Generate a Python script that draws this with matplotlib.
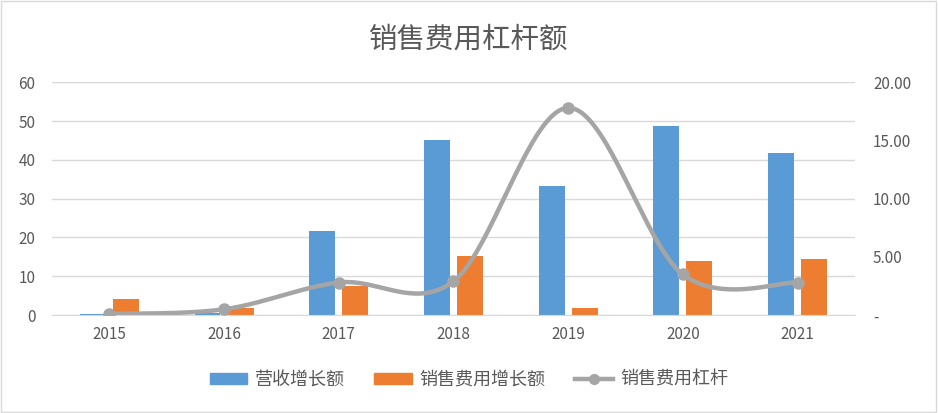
import numpy as np
import matplotlib
matplotlib.use("Agg")
import matplotlib.pyplot as plt
from matplotlib.patches import Rectangle
from matplotlib.lines import Line2D
from matplotlib.patches import Patch

plt.rcParams['font.family'] = ['Noto Sans CJK SC', 'DejaVu Sans']

years = ['2015', '2016', '2017', '2018', '2019', '2020', '2021']
revenue_growth = [0.3, 0.5, 21.6, 45.1, 33.2, 48.7, 41.8]
expense_growth = [4.1, 1.8, 7.6, 15.2, 1.8, 13.9, 14.4]
leverage = [0.1, 0.5, 2.8, 2.9, 17.8, 3.5, 2.8]

blue = '#5b9bd5'
orange = '#ed7d31'
gray = '#a5a5a5'
txt = '#595959'

fig = plt.figure(figsize=(9.38, 4.13), dpi=100)
fig.patches.append(Rectangle((0.001, 0.002), 0.997, 0.995, transform=fig.transFigure,
                             fill=False, edgecolor='#d9d9d9', linewidth=1))
ax = fig.add_axes([0.0554, 0.237, 0.856, 0.564])
x = np.arange(len(years))
w = 0.226
off = 0.144
ax.bar(x - off, revenue_growth, w, color=blue, zorder=2)
ax.bar(x + off, expense_growth, w, color=orange, zorder=2)
ax.set_xlim(-0.5, len(years) - 0.5)
ax.set_ylim(0, 60)
ax.set_yticks(range(0, 61, 10))
ax.grid(axis='y', color='#d9d9d9', linewidth=1, zorder=0)
ax.set_xticks(x)
ax.set_xticklabels(years)
for s in ['top', 'right', 'left']:
    ax.spines[s].set_visible(False)
ax.spines['bottom'].set_color('#d9d9d9')
ax.tick_params(axis='both', length=0, labelsize=11, colors=txt, pad=8)
ax.tick_params(axis='y', pad=12)

ax2 = ax.twinx()
ax2.set_ylim(0, 20)
ax2.set_yticks([0, 5, 10, 15, 20])
ax2.set_yticklabels(['-', '5.00', '10.00', '15.00', '20.00'])
for s in ax2.spines.values():
    s.set_visible(False)
ax2.tick_params(axis='y', length=0, labelsize=11, colors=txt, pad=13)

# Catmull-Rom smoothing (Excel-style smoothed line)
px = x.astype(float)
py = np.array(leverage, dtype=float)
cx, cy = [], []
n = len(px)
for i in range(n - 1):
    p0 = (px[max(i - 1, 0)], py[max(i - 1, 0)])
    p1 = (px[i], py[i])
    p2 = (px[i + 1], py[i + 1])
    p3 = (px[min(i + 2, n - 1)], py[min(i + 2, n - 1)])
    b1 = (p1[0] + (p2[0] - p0[0]) / 6, p1[1] + (p2[1] - p0[1]) / 6)
    b2 = (p2[0] - (p3[0] - p1[0]) / 6, p2[1] - (p3[1] - p1[1]) / 6)
    t = np.linspace(0, 1, 40)
    bx = (1-t)**3*p1[0] + 3*(1-t)**2*t*b1[0] + 3*(1-t)*t**2*b2[0] + t**3*p2[0]
    by = (1-t)**3*p1[1] + 3*(1-t)**2*t*b1[1] + 3*(1-t)*t**2*b2[1] + t**3*p2[1]
    cx.extend(bx); cy.extend(by)
ax2.plot(cx, cy, color=gray, linewidth=3.2, solid_capstyle='round', zorder=3)
ax2.plot(px, py, 'o', color=gray, markersize=8, zorder=4)

fig.text(0.5, 0.905, '销售费用杠杆额', ha='center', va='center', fontsize=20.5, color=txt)

handles = [Patch(color=blue), Patch(color=orange),
           Line2D([0], [0], color=gray, linewidth=3.2, marker='o', markersize=7)]
labels = ['营收增长额', '销售费用增长额', '销售费用杠杆']
fig.legend(handles, labels, loc='center', bbox_to_anchor=(0.5, 0.08), ncol=3,
           frameon=False, fontsize=13, labelcolor=txt, handlelength=2.1,
           handleheight=0.55, columnspacing=1.65, handletextpad=0.4)

fig.savefig('out.png', dpi=100)
